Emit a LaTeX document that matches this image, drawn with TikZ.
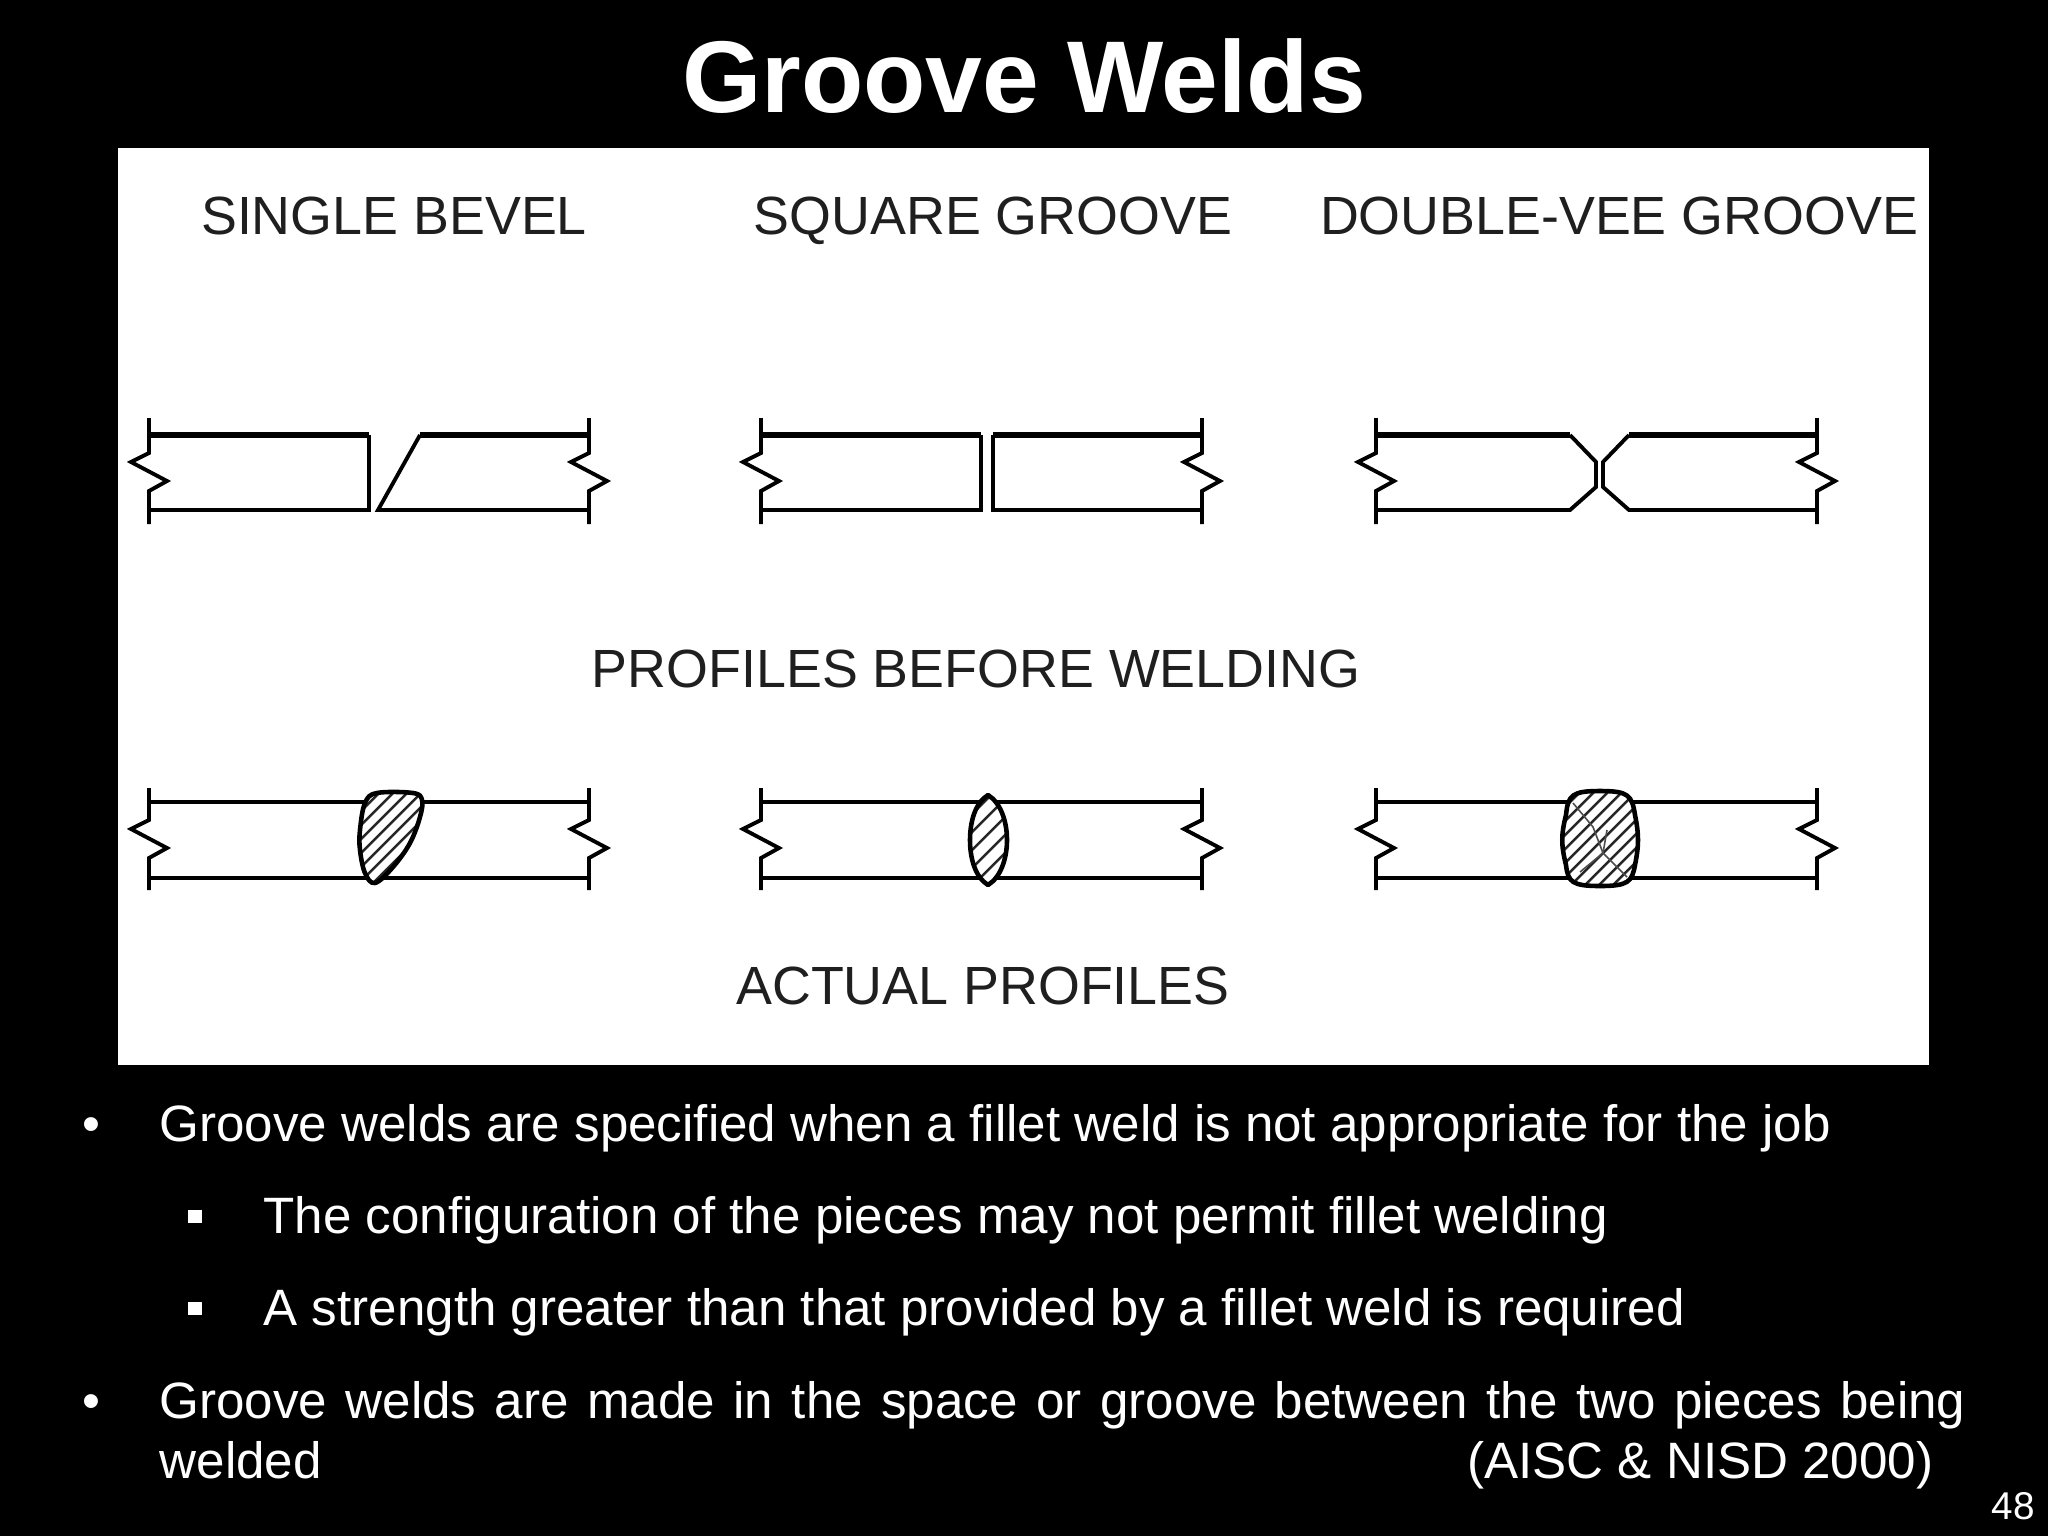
\documentclass[tikz,border=0pt]{standalone}
\usepackage{fontspec}
\setmainfont{Liberation Sans}

\tikzset{
    plate/.style={line width=1.1pt, black, line join=miter},
    topline/.style={line width=1.45pt, black},
    hatch/.style={line width=0.7pt, black!85},
    seam/.style={line width=0.45pt, black!70},
    beadline/.style={line width=1.3pt, black, line join=round},
    heading/.style={inner sep=0, anchor=base, text=black!88, font=\fontsize{15.3}{18}\selectfont},
    bodytext/.style={inner sep=0, anchor=base west, text=white, font=\fontsize{14.54}{17}\selectfont},
    dotmark/.style={inner sep=0, anchor=base, text=white, font=\fontsize{14.54}{17}\selectfont},
    squaremark/.style={inner sep=0, minimum size=3.7pt, fill=white, draw=none},
}

\begin{document}
\begin{tikzpicture}[x=0.01cm, y=-0.01cm]
    \useasboundingbox (0,0) rectangle (2048,1536);
    \fill[black] (0,0) rectangle (2048,1536);
    \fill[white] (118,148) rectangle (1929,1065);

    \node[inner sep=0, anchor=base, text=white, font=\fontsize{29}{32}\selectfont\bfseries] (title) at (1024,112) {Groove Welds};

    \node[heading] (singlebevel) at (394,234) {SINGLE BEVEL};
    \node[heading] (squaregroove) at (993,234) {SQUARE GROOVE};
    \node[heading] (doublevee) at (1619,234) {DOUBLE-VEE GROOVE};
    \node[heading] (before) at (976,687) {PROFILES BEFORE WELDING};
    \node[heading] (actual) at (983,1004) {ACTUAL PROFILES};

    % broken ends of the plates, both rows
    \foreach \xl/\xr in {149/589, 761/1202, 1376/1817} {
        \foreach \ya/\yt/\yb/\yz in {418/435/510/524, 788/802/878/890} {
            \draw[plate] (\xl,\ya) -- (\xl,\yt+18) -- (\xl-18,\yt+27) -- (\xl+18,\yt+46) -- (\xl,\yt+56) -- (\xl,\yz);
            \draw[plate] (\xr,\ya) -- (\xr,\yt+18) -- (\xr-18,\yt+27) -- (\xr+18,\yt+46) -- (\xr,\yt+56) -- (\xr,\yz);
        }
    }

    % profiles before welding
    \draw[topline] (149,435) -- (369,435);
    \draw[plate] (369,435) -- (369,510) -- (149,510);
    \draw[topline] (589,435) -- (420,435);
    \draw[plate] (420,435) -- (378,510) -- (589,510);

    \draw[topline] (761,435) -- (981,435);
    \draw[plate] (981,435) -- (981,510) -- (761,510);
    \draw[topline] (1202,435) -- (993,435);
    \draw[plate] (993,435) -- (993,510) -- (1202,510);

    \draw[topline] (1376,435) -- (1570,435);
    \draw[plate] (1570,435) -- (1596,462) -- (1596,487) -- (1570,510) -- (1376,510);
    \draw[topline] (1817,435) -- (1629,435);
    \draw[plate] (1629,435) -- (1603,462) -- (1603,487) -- (1629,510) -- (1817,510);

    % actual profiles
    \foreach \xl/\xr in {149/589, 761/1202, 1376/1817} {
        \draw[plate] (\xl,802) -- (\xr,802);
        \draw[plate] (\xl,878) -- (\xr,878);
    }

    \path[save path=\beadone] plot[smooth cycle, tension=0.6] coordinates {(365,803) (377,793) (413,793) (422,800) (420,817) (410,843) (393,867) (375,883) (365,873) (360,850) (360,830)};
    \fill[white, use path=\beadone];
    \begin{scope}
        \clip[use path=\beadone];
        \foreach \h in {240,254,...,420} {
            \draw[hatch] (\h,890) -- ++(110,-110);
        }
    \end{scope}
    \draw[beadline, use path=\beadone];

    \path[save path=\beadtwo] (988,795) .. controls (1001,803) and (1007,822) .. (1007,840) .. controls (1007,858) and (1001,877) .. (988,885) .. controls (975,877) and (970,858) .. (970,840) .. controls (970,822) and (975,803) .. (988,795) -- cycle;
    \fill[white, use path=\beadtwo];
    \begin{scope}
        \clip[use path=\beadtwo];
        \foreach \h in {860,878,...,1000} {
            \draw[hatch] (\h,890) -- ++(110,-110);
        }
    \end{scope}
    \draw[beadline, use path=\beadtwo];

    \path[save path=\beadthree] (1600,791) .. controls (1628,791) and (1632,795) .. (1635,815) .. controls (1639,835) and (1639,845) .. (1635,865) .. controls (1632,882) and (1628,886) .. (1600,886) .. controls (1572,886) and (1568,882) .. (1566,865) .. controls (1561,845) and (1561,835) .. (1566,815) .. controls (1568,795) and (1572,791) .. (1600,791) -- cycle;
    \fill[white, use path=\beadthree];
    \begin{scope}
        \clip[use path=\beadthree];
        \foreach \h in {1440,1454,...,1640} {
            \draw[hatch] (\h,890) -- ++(110,-110);
        }
        \draw[seam] (1573,803) -- (1593,827) -- (1603,853) -- (1627,877);
        \draw[seam] (1607,830) -- (1603,853) -- (1580,872);
    \end{scope}
    \draw[beadline, use path=\beadthree];

    % text under the drawing
    \node[dotmark] (dotone) at (91,1141) {•};
    \node[bodytext] (lineone) at (159,1141) {Groove welds are specified when a fillet weld is not appropriate for the job};
    \node[squaremark] (markone) at (195,1216) {};
    \node[bodytext] (linetwo) at (263,1233) {The configuration of the pieces may not permit fillet welding};
    \node[squaremark] (marktwo) at (195,1308) {};
    \node[bodytext] (linethree) at (263,1325) {A strength greater than that provided by a fillet weld is required};
    \node[dotmark] (dottwo) at (91,1418) {•};
    \node[bodytext] (linefour) at (159,1418) {\makebox[18.05cm][s]{Groove welds are made in the space or groove between the two pieces being}};
    \node[bodytext] (linefive) at (159,1478) {welded};
    \node[bodytext, anchor=base east] (source) at (1934,1478) {(AISC \& NISD 2000)};
    \node[inner sep=0, anchor=base, text=white, font=\fontsize{11}{13}\selectfont] (pagenum) at (2013,1519) {48};
\end{tikzpicture}
\end{document}
